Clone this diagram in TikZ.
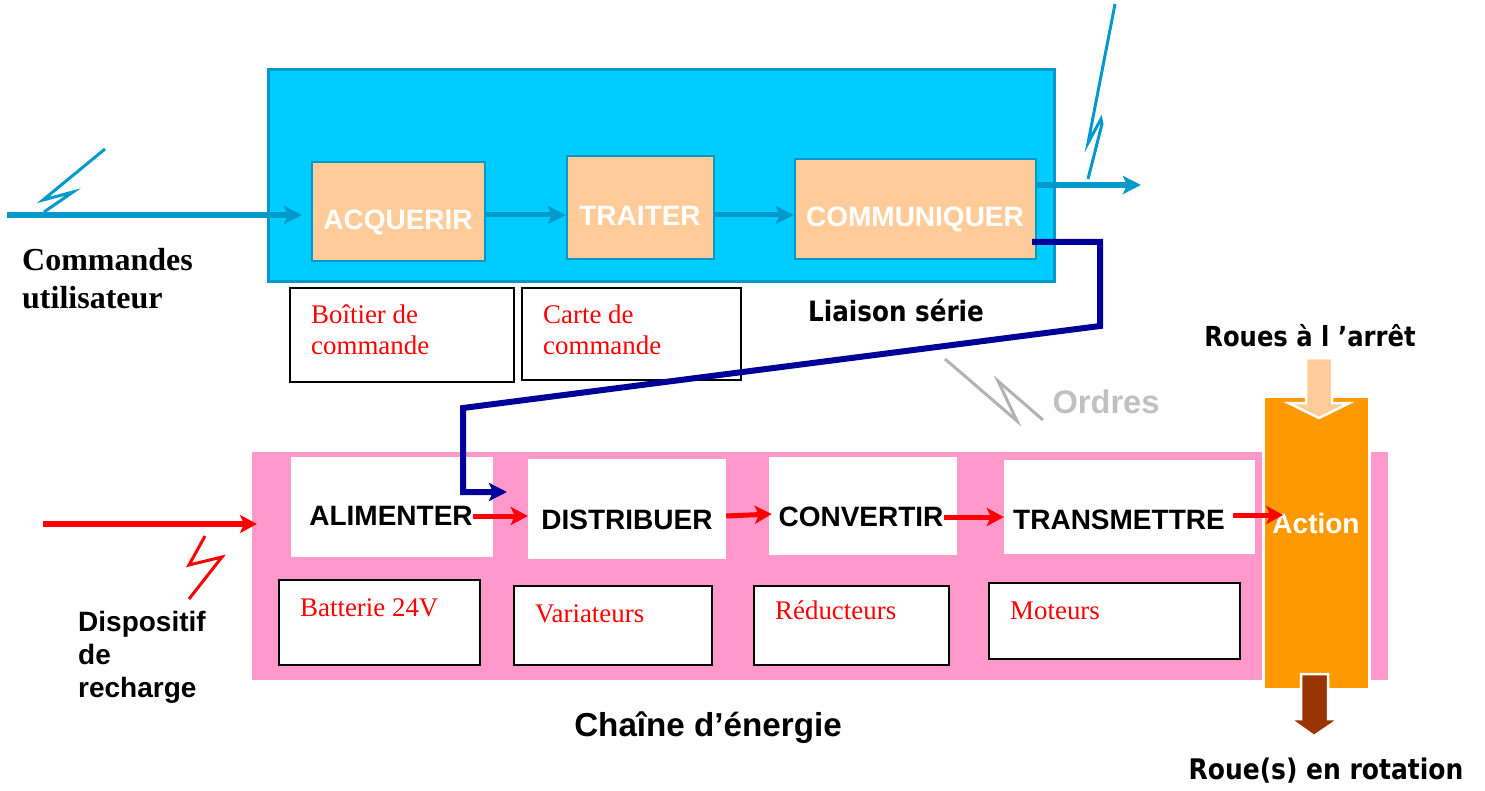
\documentclass[tikz,border=0pt]{standalone}
\usepackage{fontspec}
\setmainfont{Liberation Serif}
\setsansfont{Liberation Sans}
\newfontfamily\tahomabold[FakeStretch=0.88]{DejaVu Sans Bold}
\usetikzlibrary{arrows.meta}

\definecolor{blueline}{HTML}{0099CC}
\definecolor{bluefill}{HTML}{00CCFF}
\definecolor{peach}{HTML}{FFCC99}
\definecolor{pinkfill}{HTML}{FF99CC}
\definecolor{orangefill}{HTML}{FF9900}
\definecolor{brownfill}{HTML}{993300}
\definecolor{navyline}{HTML}{000099}
\definecolor{greyline}{HTML}{B2B2B2}
\definecolor{greytext}{HTML}{C0C0C0}

\tikzset{
  x=1pt, y=-1pt,
  actbox/.style={draw=blueline, line width=2.5pt, fill=peach},
  energybox/.style={fill=white},
  partbox/.style={draw=black, line width=2pt, fill=white},
  acttext/.style={inner sep=0pt, font=\sffamily\bfseries\fontsize{28}{32}\selectfont, text=white},
  energytext/.style={acttext, text=black},
  parttext/.style={inner sep=0pt, anchor=base west, align=left, text=red, font=\rmfamily\fontsize{26.9}{31}\selectfont},
  sidetext/.style={inner sep=0pt, anchor=base west, align=left, font=\sffamily\bfseries\fontsize{28}{33}\selectfont},
  wordtext/.style={inner sep=0pt, font=\tahomabold\fontsize{#1}{32}\selectfont},
  bluearrow/.style={draw=blueline, line width=#1, -{Stealth[length=18pt,width=18pt,inset=4pt]}},
  redarrow/.style={draw=red, line width=#1, -{Stealth[length=17pt,width=18pt,inset=4pt]}},
  bolt/.style={line width=3pt, line join=miter},
}

\begin{document}
\begin{tikzpicture}
  \useasboundingbox (0,0) rectangle (1485,791);

  % commande
  \node[draw=blueline, line width=2.5pt, fill=bluefill, minimum width=786pt, minimum height=212pt] (command) at (661.5,175.5) {};
  \node[actbox, minimum width=173pt, minimum height=99pt] (acquerir) at (398.5,211.5) {};
  \node[actbox, minimum width=147pt, minimum height=103pt] (traiter) at (640.5,207.5) {};
  \node[actbox, minimum width=241pt, minimum height=100pt] (communiquer) at (915.5,209) {};
  \node[acttext] at (398,222) {ACQUERIR};
  \node[acttext] at (640,216) {TRAITER};
  \node[acttext] at (915,219.5) {COMMUNIQUER};

  \node[partbox, minimum width=224pt, minimum height=94pt] (boitier) at (402,335) {};
  \node[partbox, minimum width=219pt, minimum height=92pt] (carte) at (631.5,334) {};
  \node[parttext] at (311,355) {Boîtier de\\commande};
  \node[parttext] at (543,355) {Carte de\\commande};

  % energie
  \node[fill=pinkfill, minimum width=1136pt, minimum height=228pt, inner sep=0pt] (energy) at (820,566) {};
  \node[draw=white, line width=3pt, fill=orangefill, minimum width=106pt, minimum height=293pt] (action) at (1316.5,543) {};

  \node[energybox, minimum width=202pt, minimum height=100pt, inner sep=0pt] (alimenter) at (392,507) {};
  \node[energybox, minimum width=198pt, minimum height=100pt, inner sep=0pt] (distribuer) at (627,509) {};
  \node[energybox, minimum width=188pt, minimum height=98pt, inner sep=0pt] (convertir) at (863,506) {};
  \node[energybox, minimum width=251pt, minimum height=94pt, inner sep=0pt] (transmettre) at (1129.5,507) {};
  \node[energytext] (alimentertxt) at (391,516) {ALIMENTER};
  \node[energytext] at (627,519.5) {DISTRIBUER};
  \node[energytext] (convertirtxt) at (861,517) {CONVERTIR};
  \node[energytext] at (1119,520) {TRANSMETTRE};
  \node[acttext] (actiontxt) at (1316,523) {Action};

  \node[partbox, minimum width=201pt, minimum height=85pt] (batterie) at (379.5,622.5) {};
  \node[partbox, minimum width=198pt, minimum height=79pt] (variateurs) at (613,625.5) {};
  \node[partbox, minimum width=195pt, minimum height=79pt] (reducteurs) at (851.5,625.5) {};
  \node[partbox, minimum width=251pt, minimum height=76pt] (moteurs) at (1114.5,621) {};
  \node[parttext] at (300,616) {Batterie 24V};
  \node[parttext] at (535,622) {Variateurs};
  \node[parttext] at (775,619) {Réducteurs};
  \node[parttext] at (1010,619) {Moteurs};

  % fleches bloc
  \draw[fill=peach, draw=white, line width=2.5pt] (1306,358) -- (1332,358) -- (1332,403) -- (1349.5,403) -- (1319,418) -- (1288.5,403) -- (1306,403) -- cycle;
  \draw[fill=brownfill, draw=white, line width=2.5pt] (1301,674) -- (1328,674) -- (1328,719) -- (1339,719) -- (1314,736) -- (1290,719) -- (1301,719) -- cycle;

  % liaisons
  \coordinate (cmdin) at (7,215);
  \coordinate (cmdend) at (302,215);
  \coordinate (cmdout) at (1141,185);
  \coordinate (rechargein) at (43,524);
  \coordinate (rechargeend) at (257,524);
  \draw[bluearrow=6pt] (cmdin) -- (cmdend);
  \draw[bluearrow=5pt] (acquerir.east |- cmdin) -- (traiter.west |- cmdin);
  \draw[bluearrow=5pt] (traiter.east |- cmdin) -- (communiquer.west |- cmdin);
  \draw[bluearrow=6pt] (communiquer.east |- cmdout) -- (cmdout);

  \coordinate (serialstart) at (1032,242);
  \coordinate (serialend) at (507,492);
  \draw[draw=navyline, line width=6pt, line join=miter, -{Stealth[length=18pt,width=18pt,inset=4pt]}]
    (serialstart) -- (1100,242) -- (1100,326) -- (463,408) -- (463,492) -- (serialend);

  \draw[redarrow=6pt] (rechargein) -- (rechargeend);
  \draw[redarrow=5pt] (alimentertxt.east) -- (distribuer.west |- alimentertxt.east);
  \draw[redarrow=5pt] (distribuer.east |- 0,516) -- ([xshift=3pt]convertir.west |- 0,514);
  \draw[redarrow=5pt] (convertirtxt.east) -- (transmettre.west |- convertirtxt.east);
  \draw[redarrow=5pt] (1233,515) -- (actiontxt.west |- 0,515) -- ++(11,0);

  % eclairs
  \draw[bolt, draw=blueline] (105,149) -- (43,200) -- (73,192) -- (44,212);
  \draw[bolt, draw=blueline] (1115,4) -- (1088,143) -- (1101,119) -- (1102,124) -- (1088,179);
  \draw[bolt, draw=greyline] (945,359) -- (1017,421) -- (998,381) -- (1043,420);
  \draw[bolt, draw=red] (205,536) -- (189,565) -- (222,557) -- (189,599);

  % textes
  \node[inner sep=0pt, anchor=base west, align=left, font=\rmfamily\bfseries\fontsize{32}{38}\selectfont] at (22,308.5) {Commandes\\utilisateur};
  \node[sidetext] at (78,697.5) {Dispositif\\de\\recharge};
  \node[wordtext=28] at (896,311) {Liaison série};
  \node[inner sep=0pt, text=greytext, font=\sffamily\bfseries\fontsize{32.6}{36}\selectfont] at (1106,402) {Ordres};
  \node[wordtext=27.6] at (1310,336) {Roues à l ’arrêt};
  \node[wordtext=28.4] at (1326,771) {Roue(s) en rotation};
  \node[inner sep=0pt, font=\sffamily\bfseries\fontsize{33.2}{36}\selectfont] at (708,727.5) {Chaîne d’énergie};
\end{tikzpicture}
\end{document}
